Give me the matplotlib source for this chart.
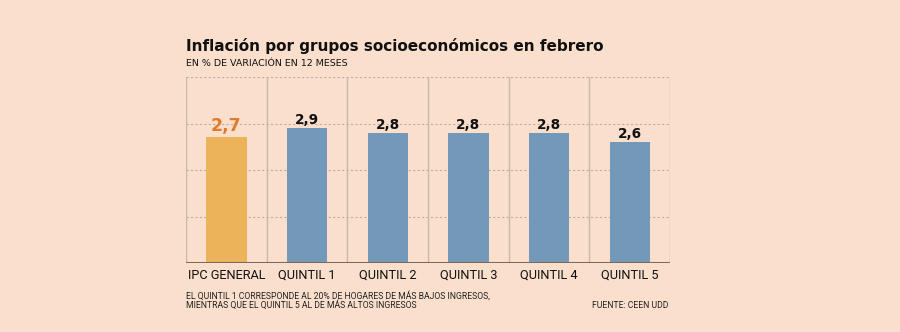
import matplotlib.pyplot as plt

categories = ["IPC GENERAL", "QUINTIL 1", "QUINTIL 2", "QUINTIL 3", "QUINTIL 4", "QUINTIL 5"]
values = [2.7, 2.9, 2.8, 2.8, 2.8, 2.6]
labels = ["2,7", "2,9", "2,8", "2,8", "2,8", "2,6"]

bg = "#F9DFCC"
fig = plt.figure(figsize=(9, 3.32), dpi=100, facecolor=bg)
ax = fig.add_axes([0.2067, 0.2078, 0.5378, 0.5602], facecolor=bg)

x = list(range(len(categories)))
colors = ["#EDB35B"] + ["#7499B8"] * (len(categories) - 1)
ax.bar(x, values, width=0.5, color=colors, zorder=3)

ax.set_xlim(-0.5, len(categories) - 0.5)
ax.set_ylim(0, 4)

# dashed horizontal grid
for y in [1, 2, 3, 4]:
    ax.axhline(y, color="#BBAEA5", lw=0.8, ls=(0, (2, 2)), zorder=1)
# vertical separators
for xs in [i - 0.5 for i in range(len(categories) + 1)]:
    ax.axvline(xs, color="#C9B9AC", lw=1.0, zorder=1)
ax.axhline(0, color="#7A6A5F", lw=2.2, zorder=4)

for s in ax.spines.values():
    s.set_visible(False)
ax.set_yticks([])
ax.set_xticks(x)
ax.set_xticklabels(categories, fontsize=9.2, family="Roboto", color="#111111")
ax.tick_params(axis="x", length=0, pad=4)

for i, (v, lab) in enumerate(zip(values, labels)):
    if i == 0:
        ax.text(i, v + 0.13, lab, ha="center", va="baseline", fontsize=12.5,
                family="DejaVu Sans", fontweight="bold", color="#E07B2A")
    else:
        ax.text(i, v + 0.09, lab, ha="center", va="baseline", fontsize=9.8,
                family="DejaVu Sans", fontweight="bold", color="#111111")

fig.text(0.2067, 0.862, "Inflación por grupos socioeconómicos en febrero",
         fontsize=11, fontweight="bold", va="center", color="#111111")
fig.text(0.2067, 0.81, "EN % DE VARIACIÓN EN 12 MESES", fontsize=6.8,
         va="center", color="#111111")
fig.text(0.2067, 0.110, "EL QUINTIL 1 CORRESPONDE AL 20% DE HOGARES DE MÁS BAJOS INGRESOS,",
         fontsize=6.2, family="Roboto", va="center", color="#222222")
fig.text(0.2067, 0.080, "MIENTRAS QUE EL QUINTIL 5 AL DE MÁS ALTOS INGRESOS",
         fontsize=6.2, family="Roboto", va="center", color="#222222")
fig.text(0.7422, 0.080, "FUENTE: CEEN UDD", fontsize=6.2, family="Roboto",
         ha="right", va="center", color="#222222")

fig.savefig("out.png", dpi=100, facecolor=bg)
